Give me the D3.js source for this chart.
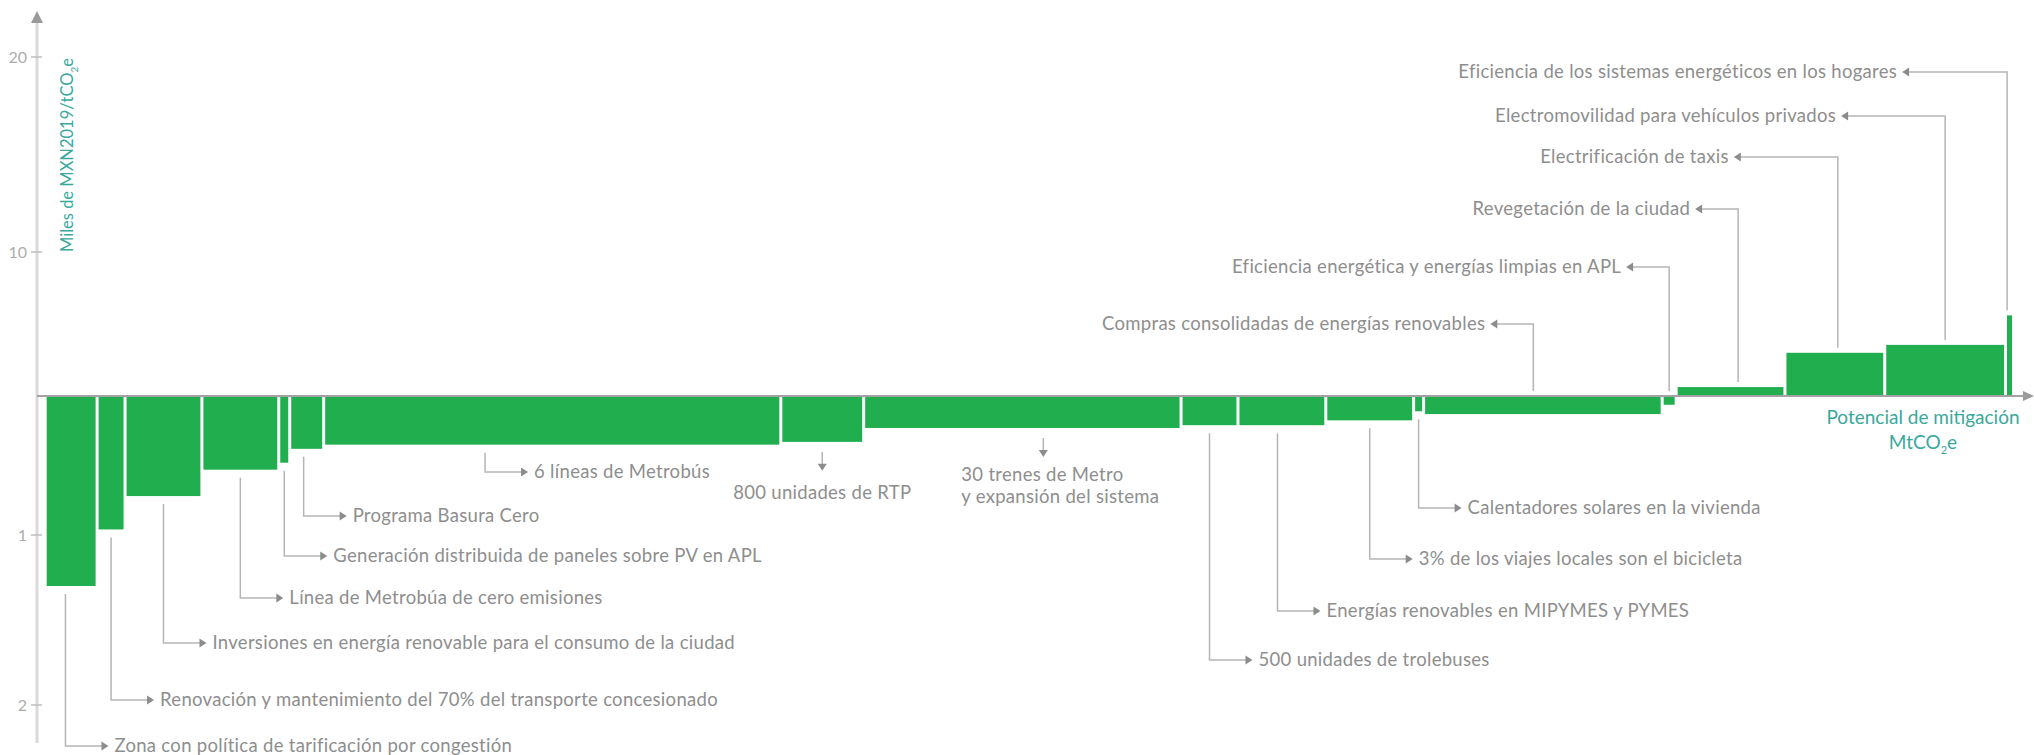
<!DOCTYPE html>
<html lang="es">
<head>
<meta charset="utf-8">
<script src="https://cdn.jsdelivr.net/npm/d3@7"></script>
<style>
  body { margin: 0; background: #fff; }
  svg { display: block; font-family: Lato, "Open Sans", sans-serif; }
  .label { fill: #8e8e8e; font-size: 18.5px; letter-spacing: 0.3px; }
  .leader { stroke: #b5b5b5; stroke-width: 1.5; fill: none; }
  .head { fill: #8c8c8c; }
  .title { fill: #3aa89c; font-size: 19px; }
  .ytitle { fill: #3aa89c; font-size: 16.5px; }
  .tick text { fill: #adadad; font-size: 16px; }
</style>
</head>
<body>
<svg id="chart" width="2034" height="755"></svg>
<script>
// medidas de mitigacion, ordenadas por costo
var measures = [
  "Zona con política de tarificación por congestión",
  "Renovación y mantenimiento del 70% del transporte concesionado",
  "Inversiones en energía renovable para el consumo de la ciudad",
  "Línea de Metrobúa de cero emisiones",
  "Generación distribuida de paneles sobre PV en APL",
  "Programa Basura Cero",
  "6 líneas de Metrobús",
  "800 unidades de RTP",
  "30 trenes de Metro\ny expansión del sistema",
  "500 unidades de trolebuses",
  "Energías renovables en MIPYMES y PYMES",
  "3% de los viajes locales son el bicicleta",
  "Calentadores solares en la vivienda",
  "Compras consolidadas de energías renovables",
  "Eficiencia energética y energías limpias en APL",
  "Revegetación de la ciudad",
  "Electrificación de taxis",
  "Electromovilidad para vehículos privados",
  "Eficiencia de los sistemas energéticos en los hogares"
];
// potencial de mitigacion (MtCO2e)
var potential = [0.52, 0.28, 0.77, 0.77, 0.11, 0.34, 4.58, 0.83, 3.18, 0.57,
                 0.88, 0.88, 0.10, 2.39, 0.14, 1.09, 1.00, 1.21, 0.08];
// costo (miles de MXN2019/tCO2e)
var cost = [-1.30, -0.96, -0.72, -0.53, -0.48, -0.38, -0.35, -0.33, -0.23, -0.21,
            -0.21, -0.175, -0.11, -0.13, -0.063, 0.62, 3.0, 3.55, 5.6];
var yTicks = [20, 10, -1, -2];

// como se colocan las etiquetas (no son datos)
var labelLayout = [
  {dir: "down", y: 746, at: 0.39},
  {dir: "down", y: 700},
  {dir: "down", y: 643},
  {dir: "down", y: 598},
  {dir: "down", y: 556},
  {dir: "down", y: 516, at: 0.41},
  {dir: "down", y: 472, at: 0.353},
  {dir: "arrow", y: 493, anchor: "middle", dx: 0},
  {dir: "arrow", y: 475, at: 0.566, anchor: "start", dx: -82},
  {dir: "down", y: 660},
  {dir: "down", y: 611, at: 0.45},
  {dir: "down", y: 559},
  {dir: "down", y: 508},
  {dir: "up", y: 324, at: 0.46},
  {dir: "up", y: 267},
  {dir: "up", y: 209, at: 0.57},
  {dir: "up", y: 157, at: 0.53, len: 104},
  {dir: "up", y: 116, len: 104},
  {dir: "up", y: 72, at: 0.2, len: 105}
];

var svg = d3.select("#chart"),
    width = +svg.attr("width"),
    height = +svg.attr("height");

var axisX = 37;

var starts = d3.cumsum([0].concat(potential));
var total = starts[starts.length - 1];

var x = d3.scaleLinear().domain([0, total]).range([45.2, 2013.5]);
// escala partida: la parte negativa va mas abierta que la positiva
var y = d3.scaleLinear().domain([-2, -1, 0, 10, 20]).range([705, 535, 396, 252, 57]);

var bars = measures.map(function(m, i) {
  return {name: m, x0: starts[i], x1: starts[i + 1], cost: cost[i], lay: labelLayout[i]};
});

// barras
svg.append("g")
  .selectAll("rect")
  .data(bars)
  .enter().append("rect")
    .attr("x", function(d) { return x(d.x0) + 1.5; })
    .attr("width", function(d) { return Math.max(1, x(d.x1) - x(d.x0) - 3); })
    .attr("y", function(d) { return Math.min(y(d.cost), y(0)); })
    .attr("height", function(d) { return Math.abs(y(d.cost) - y(0)); })
    .attr("fill", "#20ae4e");

// eje y
svg.append("line")
  .attr("x1", axisX).attr("x2", axisX)
  .attr("y1", 20).attr("y2", 743)
  .attr("stroke", "#dadada").attr("stroke-width", 3);
svg.append("path")
  .attr("d", "M" + axisX + ",11L" + (axisX - 6) + ",23L" + (axisX + 6) + ",23Z")
  .attr("fill", "#9a9a9a");

var ticks = svg.append("g").selectAll("g.tick")
  .data(yTicks)
  .enter().append("g")
    .attr("class", "tick")
    .attr("transform", function(d) { return "translate(0," + y(d) + ")"; });
ticks.append("line")
  .attr("x1", axisX - 6).attr("x2", axisX + 5)
  .attr("stroke", "#bdbdbd").attr("stroke-width", 1.5);
ticks.append("text")
  .attr("x", axisX - 10)
  .attr("dy", "0.35em")
  .attr("text-anchor", "end")
  .text(function(d) { return Math.abs(d); });

// eje x
svg.append("line")
  .attr("x1", axisX).attr("x2", 2026)
  .attr("y1", y(0)).attr("y2", y(0))
  .attr("stroke", "#a3a3a3").attr("stroke-width", 2);
svg.append("path")
  .attr("d", "M2034," + y(0) + "L2023," + (y(0) - 5) + "L2023," + (y(0) + 5) + "Z")
  .attr("fill", "#9a9a9a");

// titulos de ejes
var yt = svg.append("text")
  .attr("class", "ytitle")
  .attr("transform", "translate(67,252) rotate(-90)")
  .attr("dy", "0.35em");
yt.append("tspan").text("Miles de MXN2019/tCO");
yt.append("tspan").attr("font-size", "10px").attr("dy", "5").text("2");
yt.append("tspan").attr("dy", "-5").text("e");

var xt = svg.append("text")
  .attr("class", "title")
  .attr("text-anchor", "middle");
xt.append("tspan").attr("x", 1923).attr("y", 417).attr("dy", "0.35em").text("Potencial de mitigación");
var l2 = svg.append("text")
  .attr("class", "title")
  .attr("text-anchor", "middle")
  .attr("x", 1923).attr("y", 442).attr("dy", "0.35em");
l2.append("tspan").text("MtCO");
l2.append("tspan").attr("font-size", "11px").attr("dy", "5").text("2");
l2.append("tspan").attr("dy", "-5").text("e");

// etiquetas con lineas guia
var notes = svg.append("g");

bars.forEach(function(d) {
  var lay = d.lay;
  var at = lay.at == null ? 0.5 : lay.at;
  var lx = x(d.x0) + (x(d.x1) - x(d.x0)) * at;
  var g = notes.append("g");

  if (lay.dir === "down") {
    var tip = lx + 43;
    var top = Math.max(y(d.cost), y(0)) + 8;
    g.append("path").attr("class", "leader")
      .attr("d", "M" + lx + "," + top + "V" + lay.y + "H" + (tip - 5));
    g.append("path").attr("class", "head")
      .attr("d", "M" + tip + "," + lay.y + "L" + (tip - 7) + "," + (lay.y - 4.5) + "L" + (tip - 7) + "," + (lay.y + 4.5) + "Z");
    g.append("text").attr("class", "label")
      .attr("x", tip + 6).attr("y", lay.y).attr("dy", "0.35em")
      .text(d.name);
  } else if (lay.dir === "up") {
    var len = lay.len || 43;
    var tipU = lx - len;
    var bot = Math.min(y(d.cost), y(0)) - 5;
    g.append("path").attr("class", "leader")
      .attr("d", "M" + lx + "," + bot + "V" + lay.y + "H" + (tipU + 5));
    g.append("path").attr("class", "head")
      .attr("d", "M" + tipU + "," + lay.y + "L" + (tipU + 7) + "," + (lay.y - 4.5) + "L" + (tipU + 7) + "," + (lay.y + 4.5) + "Z");
    g.append("text").attr("class", "label")
      .attr("x", tipU - 5).attr("y", lay.y).attr("dy", "0.35em")
      .attr("text-anchor", "end")
      .text(d.name);
  } else {
    // flecha vertical con texto debajo
    var a0 = Math.max(y(d.cost), y(0)) + 10;
    var a1 = a0 + 19;
    g.append("path").attr("class", "leader")
      .attr("d", "M" + lx + "," + a0 + "V" + (a1 - 5));
    g.append("path").attr("class", "head")
      .attr("d", "M" + lx + "," + a1 + "L" + (lx - 4.5) + "," + (a1 - 7) + "L" + (lx + 4.5) + "," + (a1 - 7) + "Z");
    var lines = d.name.split("\n");
    var t = g.append("text").attr("class", "label")
      .attr("text-anchor", lay.anchor);
    lines.forEach(function(s, k) {
      t.append("tspan")
        .attr("x", lx + lay.dx)
        .attr("y", lay.y + k * 22)
        .attr("dy", "0.35em")
        .text(s);
    });
  }
});
</script>
</body>
</html>
